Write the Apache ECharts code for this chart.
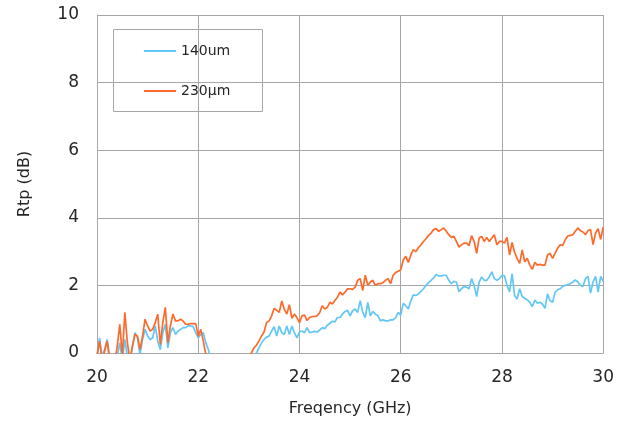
<!DOCTYPE html>
<html>
<head>
<meta charset="utf-8">
<script src="https://cdn.jsdelivr.net/npm/echarts@6/dist/echarts.min.js"></script>
<style>
  html, body { margin: 0; padding: 0; background: #ffffff; }
  #chart { width: 617px; height: 422px; }
</style>
</head>
<body>
<div id="chart"></div>
<script>
// Sweep: 20 GHz to 30 GHz in 0.05 GHz steps
const freqStart = 20;
const freqStep = 0.05;

const seriesNames = ['140um', '230\u03bcm'];

// Rtp (dB) for the 140um sample, one value per sweep point
const rtp140 = [
  -0.1, 0.45, -0.1, 0.1, 0.4, -0.1, -0.5, -0.4, -0.1, 0.3, -0.2, 0.4, -0.1, -0.3, 0.2, 0.6, 0.45, -0.05, 0.4, 0.7,
  0.5, 0.4, 0.45, 0.8, 0.35, 0.1, 0.6, 0.85, 0.15, 0.6, 0.75, 0.55, 0.65, 0.7, 0.75, 0.75, 0.8, 0.8, 0.78, 0.6,
  0.45, 0.55, 0.6, 0.3, 0.1,
  -0.2, -0.5, -0.8, -1.0, -1.1, -1.2, -1.2, -1.1, -1.0, -0.9, -0.8, -0.7, -0.6, -0.5, -0.4, -0.3,
  -0.2, -0.1, 0.0, 0.15, 0.3, 0.4, 0.47, 0.5, 0.65, 0.78, 0.5, 0.8, 0.6, 0.55, 0.8, 0.55, 0.8, 0.6, 0.45,
  0.62, 0.65, 0.6, 0.75, 0.6, 0.62, 0.64, 0.62, 0.68, 0.75, 0.72, 0.82, 0.88, 0.94, 0.92, 1.05, 1.05, 1.15, 1.23, 1.26,
  1.1, 1.25, 1.3, 1.2, 1.55, 1.2, 1.05, 1.5, 1.1, 1.23, 1.15, 1.1, 0.95, 0.98, 0.95, 0.95, 0.98, 0.98, 1.05, 1.2,
  1.12, 1.47, 1.4, 1.3, 1.55, 1.72, 1.7, 1.75, 1.82, 1.9, 2.0, 2.08, 2.15, 2.22, 2.32, 2.28, 2.28, 2.3, 2.3, 2.15,
  2.05, 2.12, 2.1, 1.81, 1.9, 1.96, 1.95, 1.9, 2.2, 2.0, 1.67, 2.1, 2.25, 2.15, 2.15, 2.25, 2.4, 2.2, 2.15, 2.2,
  2.3, 2.28, 2.0, 1.81, 2.35, 1.7, 1.6, 1.9, 1.67, 1.62, 1.57, 1.5, 1.37, 1.57, 1.47, 1.5, 1.45, 1.32, 1.75, 1.55,
  1.5, 1.8, 1.87, 1.9, 1.97, 2.0, 2.02, 2.05, 2.1, 2.16, 2.1, 2.0, 1.97, 2.2, 2.27, 1.77, 2.1, 2.27, 1.8, 2.27, 2.12
];

// Rtp (dB) for the 230um sample, one value per sweep point
const rtp230 = [
  -0.1, 0.35, -0.2, 0.05, 0.35, -0.2, -0.5, -0.3, 0.2, 0.85, -0.1, 1.2, 0.3, -0.2, 0.2, 0.55, 0.5, 0.1, 0.5, 1.0,
  0.8, 0.65, 0.7, 0.9, 1.15, 0.25, 0.9, 1.35, 0.3, 0.8, 1.15, 0.95, 0.95, 1.0, 0.95, 0.85, 0.85, 0.87, 0.87, 0.87,
  0.5, 0.7, 0.35, -0.05, -0.5,
  -0.8, -1.0, -1.2, -1.3, -1.2, -1.4, -1.3, -1.2, -1.1, -1.0, -0.9, -0.8, -0.6, -0.5, -0.35, -0.15,
  0.0, 0.15, 0.23, 0.36, 0.5, 0.62, 0.9, 0.95, 1.1, 1.32, 1.26, 1.2, 1.54, 1.3, 1.15, 1.43, 1.03, 1.15, 1.05,
  0.9, 1.1, 1.12, 0.96, 1.05, 1.08, 1.08, 1.1, 1.2, 1.4, 1.3, 1.35, 1.5, 1.45, 1.55, 1.65, 1.8, 1.72, 1.8, 1.9,
  1.9, 1.88, 1.95, 2.15, 2.2, 1.85, 2.3, 2.0, 2.1, 2.15, 2.0, 2.05, 2.05, 2.08, 2.15, 2.2, 2.05, 2.3, 2.38, 2.42,
  2.46, 2.75, 2.86, 2.68, 2.9, 3.06, 3.0, 3.12, 3.2, 3.3, 3.38, 3.48, 3.55, 3.65, 3.68, 3.6, 3.65, 3.7, 3.6, 3.5,
  3.42, 3.45, 3.3, 3.13, 3.2, 3.25, 3.25, 3.18, 3.47, 3.3, 2.95, 3.4, 3.45, 3.3, 3.42, 3.3, 3.4, 3.5, 3.2, 3.3,
  3.3, 3.25, 3.42, 2.9, 3.27, 2.98, 2.8, 2.65, 3.05, 2.7, 2.8, 2.6, 2.48, 2.68, 2.6, 2.62, 2.6, 2.6, 2.9, 2.95,
  2.8, 2.95, 3.1, 3.2, 3.18, 3.35, 3.46, 3.48, 3.5, 3.6, 3.7, 3.62, 3.58, 3.5, 3.62, 3.65, 3.21, 3.55, 3.68, 3.36, 3.72
];

const freqs = rtp140.map((_, i) => +(freqStart + i * freqStep).toFixed(2));
const pairs = vals => vals.map((v, i) => [freqs[i], v]);

const colors = ['#63C7F5', '#FF6A2B'];
const gridGray = '#A6A6A6';
const textColor = '#262626';
const fontFamily = 'DejaVu Sans, Verdana, sans-serif';

const chart = echarts.init(document.getElementById('chart'), null, { renderer: 'canvas' });

chart.setOption({
  animation: false,
  backgroundColor: '#ffffff',
  grid: { left: 97, right: 10, top: 15, bottom: 65, containLabel: false },
  xAxis: {
    type: 'value',
    min: 20, max: 30, interval: 2,
    name: 'Freqency (GHz)',
    nameLocation: 'middle',
    nameGap: 48,
    nameTextStyle: { fontFamily, fontSize: 16, color: textColor },
    axisLine: { show: true, lineStyle: { color: gridGray, width: 1 } },
    axisTick: { show: false },
    axisLabel: { fontFamily, fontSize: 17, color: textColor, margin: 16 },
    splitLine: { show: true, lineStyle: { color: gridGray, width: 1 } }
  },
  yAxis: {
    type: 'value',
    min: 0, max: 10, interval: 2,
    name: 'Rtp (dB)',
    nameLocation: 'middle',
    nameGap: 64,
    nameTextStyle: { fontFamily, fontSize: 16, color: textColor },
    axisLine: { show: true, lineStyle: { color: gridGray, width: 1 } },
    axisTick: { show: false },
    axisLabel: { fontFamily, fontSize: 17, color: textColor, margin: 18 },
    splitLine: { show: true, lineStyle: { color: gridGray, width: 1 } }
  },
  legend: {
    orient: 'vertical',
    left: 144, top: 44,
    padding: 0,
    itemWidth: 32, itemHeight: 2,
    itemGap: 26,
    icon: 'rect',
    textStyle: { fontFamily, fontSize: 14, color: textColor, padding: [0, 0, 0, 0] },
    data: seriesNames
  },
  graphic: [{
    type: 'rect',
    left: 113, top: 29,
    shape: { width: 149, height: 82 },
    style: { fill: '#ffffff', stroke: gridGray, lineWidth: 1 },
    z: 0, zlevel: 0
  }],
  series: [
    {
      name: seriesNames[0], type: 'line', data: pairs(rtp140),
      showSymbol: false, symbol: 'none', clip: true,
      lineStyle: { color: colors[0], width: 1.7 }, itemStyle: { color: colors[0] }
    },
    {
      name: seriesNames[1], type: 'line', data: pairs(rtp230),
      showSymbol: false, symbol: 'none', clip: true,
      lineStyle: { color: colors[1], width: 1.7 }, itemStyle: { color: colors[1] }
    }
  ]
});
</script>
</body>
</html>
